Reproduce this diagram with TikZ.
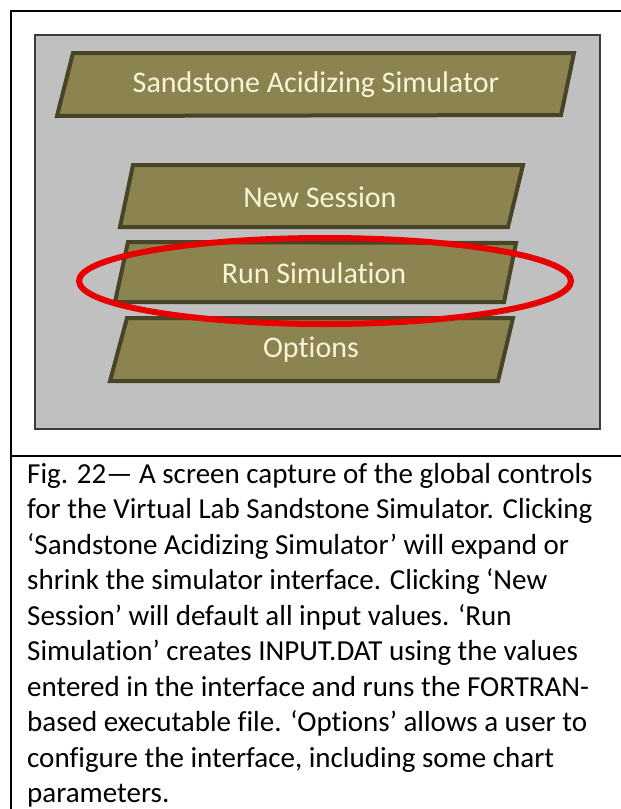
\documentclass[tikz,border=0pt]{standalone}
\usepackage{fontspec}
\setmainfont{Carlito}[Ligatures=NoCommon]
\definecolor{panelgray}{RGB}{192,192,192}
\definecolor{paneledge}{RGB}{60,60,60}
\definecolor{olivefill}{RGB}{139,131,80}
\definecolor{oliveedge}{RGB}{72,68,40}
\definecolor{creamtext}{RGB}{250,245,215}
\definecolor{markred}{RGB}{232,0,0}
\begin{document}
\begin{tikzpicture}[x=1pt,y=-1pt,
  btn/.style={fill=olivefill,draw=oliveedge,line width=4pt,line join=miter},
  btntext/.style={inner sep=0pt,text=creamtext,font=\fontsize{30}{34}\selectfont},
  capline/.style={anchor=base west,inner sep=0pt,font=\fontsize{29}{35}\selectfont},
  frame/.style={draw=black,line width=2pt}]
\useasboundingbox[fill=white] (0,0) rectangle (621,809);

% outer frame and caption separator
\draw[frame] (621,11) -- (11,11) -- (11,809);
\draw[frame] (11,456) -- (621,456);

% control panel
\filldraw[fill=panelgray,draw=paneledge,line width=1.5pt] (35,35) rectangle (600,429);

% buttons
\draw[btn] (73,53) -- (574,53) -- (561,115) -- (57,116) -- cycle;
\node[btntext] (sim) at (316,85) {Sandstone Acidizing Simulator};

\draw[btn] (133,165) -- (523,165) -- (508,227) -- (120,227) -- cycle;
\node[btntext] (new) at (320,197) {New Session};

\draw[btn] (128,242) -- (516,243) -- (504,302) -- (115,302) -- cycle;
\node[btntext] (run) at (314,273) {Run Simulation};

\draw[btn] (127,318) -- (513,318) -- (498,381) -- (110,381) -- cycle;
\node[btntext] (opt) at (311,350) {Options};

% highlight around the Run Simulation button
\draw[markred,line width=6pt] (325,281) ellipse [x radius=246, y radius=43];

% caption
\node[capline] (c1) at (27,483) {Fig. 22— A screen capture of the global controls};
\node[capline] (c2) at (27,518.5) {for the Virtual Lab Sandstone Simulator. Clicking};
\node[capline] (c3) at (27,554) {‘Sandstone Acidizing Simulator’ will expand or};
\node[capline] (c4) at (27,589.5) {shrink the simulator interface. Clicking ‘New};
\node[capline] (c5) at (27,625) {Session’ will default all input values. ‘Run};
\node[capline] (c6) at (27,660.5) {Simulation’ creates INPUT.DAT using the values};
\node[capline] (c7) at (27,696) {entered in the interface and runs the FORTRAN-};
\node[capline] (c8) at (27,731.5) {based executable file. ‘Options’ allows a user to};
\node[capline] (c9) at (27,767) {configure the interface, including some chart};
\node[capline] (c10) at (27,802.5) {parameters.};
\end{tikzpicture}
\end{document}
